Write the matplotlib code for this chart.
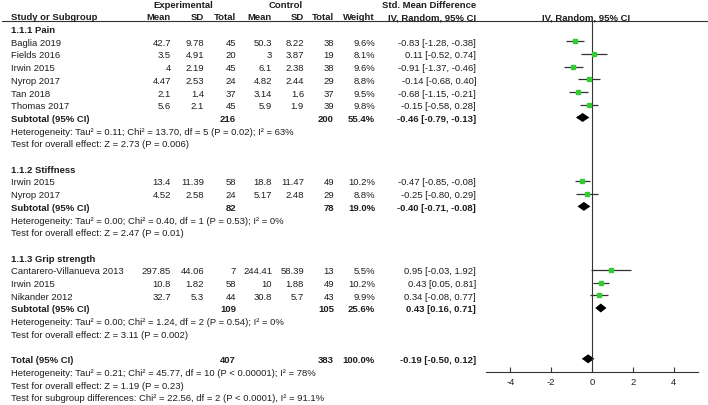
import matplotlib
matplotlib.use("Agg")
import matplotlib.pyplot as plt

plt.rcParams['font.family'] = ['Liberation Sans', 'DejaVu Sans']
plt.rcParams['axes.unicode_minus'] = False

# ---- data ----
group_titles = ["1.1.1 Pain", "1.1.2 Stiffness", "1.1.3 Grip strength"]

pain_study = ["Baglia 2019", "Fields 2016", "Irwin 2015", "Nyrop 2017", "Tan 2018", "Thomas 2017"]
pain_exp_mean = [42.7, 3.5, 4, 4.47, 2.1, 5.6]
pain_exp_sd = [9.78, 4.91, 2.19, 2.53, 1.4, 2.1]
pain_exp_n = [45, 20, 45, 24, 37, 45]
pain_ctl_mean = [50.3, 3, 6.1, 4.82, 3.14, 5.9]
pain_ctl_sd = [8.22, 3.87, 2.38, 2.44, 1.6, 1.9]
pain_ctl_n = [38, 19, 38, 29, 37, 39]
pain_weight = [9.6, 8.1, 9.6, 8.8, 9.5, 9.8]
pain_smd = [-0.83, 0.11, -0.91, -0.14, -0.68, -0.15]
pain_lo = [-1.28, -0.52, -1.37, -0.68, -1.15, -0.58]
pain_hi = [-0.38, 0.74, -0.46, 0.40, -0.21, 0.28]

stiff_study = ["Irwin 2015", "Nyrop 2017"]
stiff_exp_mean = [13.4, 4.52]
stiff_exp_sd = [11.39, 2.58]
stiff_exp_n = [58, 24]
stiff_ctl_mean = [18.8, 5.17]
stiff_ctl_sd = [11.47, 2.48]
stiff_ctl_n = [49, 29]
stiff_weight = [10.2, 8.8]
stiff_smd = [-0.47, -0.25]
stiff_lo = [-0.85, -0.80]
stiff_hi = [-0.08, 0.29]

grip_study = ["Cantarero-Villanueva 2013", "Irwin 2015", "Nikander 2012"]
grip_exp_mean = [297.85, 10.8, 32.7]
grip_exp_sd = [44.06, 1.82, 5.3]
grip_exp_n = [7, 58, 44]
grip_ctl_mean = [244.41, 10, 30.8]
grip_ctl_sd = [58.39, 1.88, 5.7]
grip_ctl_n = [13, 49, 43]
grip_weight = [5.5, 10.2, 9.9]
grip_smd = [0.95, 0.43, 0.34]
grip_lo = [-0.03, 0.05, -0.08]
grip_hi = [1.92, 0.81, 0.77]

# subtotals: exp n, ctl n, weight, smd, lo, hi
sub_exp_n = [216, 82, 109]
sub_ctl_n = [200, 78, 105]
sub_weight = [55.4, 19.0, 25.6]
sub_smd = [-0.46, -0.40, 0.43]
sub_lo = [-0.79, -0.71, 0.16]
sub_hi = [-0.13, -0.08, 0.71]
sub_het = ["Heterogeneity: Tau\u00b2 = 0.11; Chi\u00b2 = 13.70, df = 5 (P = 0.02); I\u00b2 = 63%",
           "Heterogeneity: Tau\u00b2 = 0.00; Chi\u00b2 = 0.40, df = 1 (P = 0.53); I\u00b2 = 0%",
           "Heterogeneity: Tau\u00b2 = 0.00; Chi\u00b2 = 1.24, df = 2 (P = 0.54); I\u00b2 = 0%"]
sub_test = ["Test for overall effect: Z = 2.73 (P = 0.006)",
            "Test for overall effect: Z = 2.47 (P = 0.01)",
            "Test for overall effect: Z = 3.11 (P = 0.002)"]

total_exp_n = 407
total_ctl_n = 383
total_weight = 100.0
total_smd = -0.19
total_lo = -0.50
total_hi = 0.12
total_notes = ["Heterogeneity: Tau\u00b2 = 0.21; Chi\u00b2 = 45.77, df = 10 (P < 0.00001); I\u00b2 = 78%",
               "Test for overall effect: Z = 1.19 (P = 0.23)",
               "Test for subgroup differences: Chi\u00b2 = 22.56, df = 2 (P < 0.0001), I\u00b2 = 91.1%"]

x_ticks = [-4, -2, 0, 2, 4]

# ---- layout (pixels) ----
W, H = 708, 406
FS = 6.8
TXT = '#1e1e1e'
ROW0, STEP = 29.6, 12.7
col_study = 11
col_right = {'em': 171, 'esd': 204, 'en': 236, 'cm': 272, 'csd': 304, 'cn': 334, 'w': 375, 'ci': 476}
plot_left, plot_right = 486, 698
xlim = (-5.2, 5.2)
axis_y = 373
hdr_line_y = 21.7


def row_y(i):
    return ROW0 + STEP * i


def ci_text(est, lo, hi):
    return f"{est:.2f} [{lo:.2f}, {hi:.2f}]"


def put(ax, x, y, s, ha='left', bold=False):
    ax.text(x, y + 1, s, ha=ha, va='center', fontsize=FS, color=TXT,
            fontweight='bold' if bold else 'normal')


def draw_study(tab, fp, r, name, em, esd, en, cm, csd, cn, w, est, lo, hi):
    y = row_y(r)
    put(tab, col_study, y, name)
    for key, v in zip(['em', 'esd', 'en', 'cm', 'csd', 'cn'], [em, esd, en, cm, csd, cn]):
        put(tab, col_right[key], y, f"{v:g}", ha='right')
    put(tab, col_right['w'], y, f"{w:.1f}%", ha='right')
    put(tab, col_right['ci'], y, ci_text(est, lo, hi), ha='right')
    fp.plot([lo, hi], [y, y], color='#333333', lw=0.9, solid_capstyle='butt')
    fp.plot([est], [y], marker='s', ms=2.6, color='#33cc33', mec='#33cc33', ls='none')


def draw_diamond(fp, y, est, lo, hi, half=4.5):
    fp.fill([lo, est, hi, est], [y, y - half, y, y + half], color='black', lw=0)


def draw_summary(tab, fp, r, label, en, cn, w, est, lo, hi):
    y = row_y(r)
    put(tab, col_study, y, label, bold=True)
    put(tab, col_right['en'], y, f"{en}", ha='right', bold=True)
    put(tab, col_right['cn'], y, f"{cn}", ha='right', bold=True)
    put(tab, col_right['w'], y, f"{w:.1f}%", ha='right', bold=True)
    put(tab, col_right['ci'], y, ci_text(est, lo, hi), ha='right', bold=True)
    draw_diamond(fp, y, est, lo, hi)


def make_plot():
    fig = plt.figure(figsize=(W / 100, H / 100), dpi=100)
    tab = fig.add_axes([0, 0, 1, 1])
    tab.set_xlim(0, W)
    tab.set_ylim(H, 0)
    tab.axis('off')

    fp = fig.add_axes([plot_left / W, 0, (plot_right - plot_left) / W, 1])
    fp.set_xlim(*xlim)
    fp.set_ylim(H, 0)
    fp.patch.set_alpha(0)
    for s in ['top', 'left', 'right']:
        fp.spines[s].set_visible(False)
    fp.spines['bottom'].set_position(('data', axis_y))
    fp.spines['bottom'].set_color('#333333')
    fp.spines['bottom'].set_linewidth(0.8)
    fp.set_yticks([])
    fp.set_xticks(x_ticks)
    fp.set_xticklabels([str(t) for t in x_ticks])
    fp.tick_params(axis='x', direction='in', length=3.5, width=0.8, color='#333333',
                   labelsize=FS, labelcolor=TXT, pad=3.4)
    fp.vlines(0, hdr_line_y, axis_y, color='#333333', lw=0.8)

    # headers
    hb = dict(ha='center', va='center', fontsize=FS, color=TXT, fontweight='bold')
    tab.text(183, 5.5, "Experimental", **hb)
    tab.text(286, 5.5, "Control", **hb)
    tab.text(429, 5.5, "Std. Mean Difference", **hb)
    tab.text(col_study, 17.5, "Study or Subgroup", ha='left', va='center', fontsize=FS, color=TXT, fontweight='bold')
    for key, lab in [('em', 'Mean'), ('esd', 'SD'), ('en', 'Total'), ('cm', 'Mean'),
                     ('csd', 'SD'), ('cn', 'Total'), ('w', 'Weight'), ('ci', 'IV, Random, 95% CI')]:
        tab.text(col_right[key], 17.5, lab, ha='right', va='center', fontsize=FS, color=TXT, fontweight='bold')
    tab.text(586, 17.5, "IV, Random, 95% CI", **hb)
    tab.axhline(hdr_line_y, xmin=2 / W, xmax=1, color='#333333', lw=0.8)

    groups = [
        (pain_study, pain_exp_mean, pain_exp_sd, pain_exp_n, pain_ctl_mean, pain_ctl_sd, pain_ctl_n,
         pain_weight, pain_smd, pain_lo, pain_hi),
        (stiff_study, stiff_exp_mean, stiff_exp_sd, stiff_exp_n, stiff_ctl_mean, stiff_ctl_sd, stiff_ctl_n,
         stiff_weight, stiff_smd, stiff_lo, stiff_hi),
        (grip_study, grip_exp_mean, grip_exp_sd, grip_exp_n, grip_ctl_mean, grip_ctl_sd, grip_ctl_n,
         grip_weight, grip_smd, grip_lo, grip_hi),
    ]

    r = 0
    for g, cols in enumerate(groups):
        put(tab, col_study, row_y(r), group_titles[g], bold=True)
        r += 1
        for row in zip(*cols):
            draw_study(tab, fp, r, *row)
            r += 1
        draw_summary(tab, fp, r, "Subtotal (95% CI)", sub_exp_n[g], sub_ctl_n[g], sub_weight[g],
                     sub_smd[g], sub_lo[g], sub_hi[g])
        r += 1
        put(tab, col_study, row_y(r), sub_het[g])
        r += 1
        put(tab, col_study, row_y(r), sub_test[g])
        r += 2

    draw_summary(tab, fp, r, "Total (95% CI)", total_exp_n, total_ctl_n, total_weight,
                 total_smd, total_lo, total_hi)
    r += 1
    for note in total_notes:
        put(tab, col_study, row_y(r), note)
        r += 1

    fig.savefig("out.png", dpi=100)
    plt.close(fig)


if __name__ == "__main__":
    make_plot()
